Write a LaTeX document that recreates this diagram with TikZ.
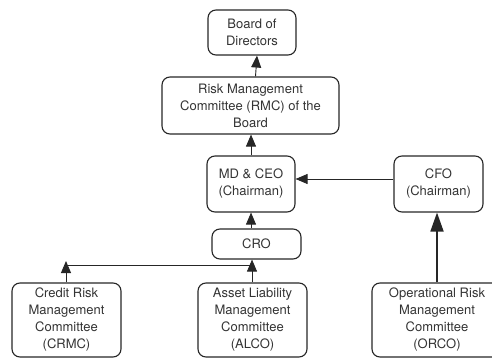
\documentclass[tikz,border=0pt]{standalone}
\usepackage{fontspec}
\setmainfont{TeX Gyre Heros}
\usetikzlibrary{arrows.meta}
\begin{document}
\begin{tikzpicture}[x=1pt,y=-1pt,
  box/.style={draw=black!85, line width=1.1pt, rounded corners=8pt, align=center, inner sep=0pt,
    text=black!80, font=\fontsize{13}{17}\selectfont},
  arr/.style={draw=black!85, line width=0.9pt, -{Triangle[length=12pt,width=10pt]}},
  bigarr/.style={draw=black!85, line width=1.8pt, -{Triangle[length=19pt,width=13pt]}},
  link/.style={draw=black!85, line width=0.9pt}]
\clip (0,0) rectangle (492,358);
\node[box, minimum width=88pt, minimum height=45pt] (bod) at (252,32.5) {Board of\\Directors};
\node[box, minimum width=177pt, minimum height=57pt] (rmc) at (250.5,105.5) {Risk Management\\Committee (RMC) of the\\Board};
\node[box, minimum width=88pt, minimum height=56pt] (md) at (251,184) {MD \& CEO\\(Chairman)};
\node[box, minimum width=89pt, minimum height=56pt] (cfo) at (438.5,184) {CFO\\(Chairman)};
\node[box, minimum width=89pt, minimum height=30pt] (cro) at (256.5,244) {CRO};
\node[box, minimum width=109pt, minimum height=74pt] (crmc) at (66.5,320) {Credit Risk\\Management\\Committee\\(CRMC)};
\node[box, minimum width=109pt, minimum height=74pt] (alco) at (252.5,320) {Asset Liability\\Management\\Committee\\(ALCO)};
\node[box, minimum width=130pt, minimum height=74pt] (orco) at (437,320) {Operational Risk\\Management\\Committee\\(ORCO)};
\coordinate (j1) at (66,265);
\coordinate (j1t) at (66,261);
\coordinate (j2) at (252,265);
\draw[arr] ([xshift=5pt]rmc.north) -- ([xshift=5pt]bod.south);
\draw[arr] (md.north) -- (md.north |- rmc.south);
\draw[arr] (md.south |- cro.north) -- (md.south);
\draw[arr] ([yshift=5pt]cfo.west) -- ([yshift=5pt]md.east);
\draw[bigarr] (orco.north) -- (orco.north |- cfo.south);
\draw[link] (j1) -- (j2);
\draw[arr] (crmc.north -| j1) -- (j1t);
\draw[arr] (alco.north -| j2) -- (j2 |- cro.south);
\end{tikzpicture}
\end{document}
